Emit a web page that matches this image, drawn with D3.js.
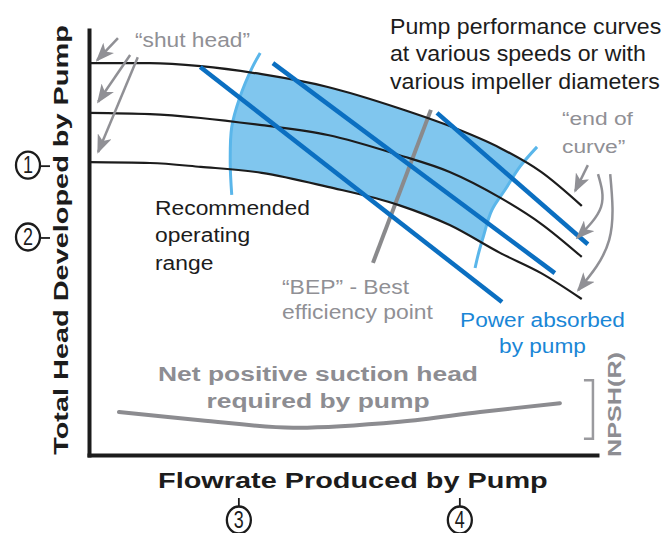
<!DOCTYPE html>
<html>
<head>
<meta charset="utf-8">
<script src="https://cdn.jsdelivr.net/npm/d3@7"></script>
<style>
  body { margin: 0; background: #fff; }
  svg { display: block; }
  text { font-family: "Liberation Sans", Arial, sans-serif; }
</style>
</head>
<body>
<svg id="chart" width="661" height="533"></svg>
<script>
// values, flow and head both in % of the axis length
const flow = [0, 12, 22, 34, 47, 61, 71, 81, 89, 97];
const headCurve1 = [92.2, 92.2, 91.5, 89.6, 86.6, 81.6, 77.4, 72.2, 66.6, 58.6];
const headCurve2 = [80.5, 80.2, 79.3, 77.6, 75.3, 70.6, 66.6, 60.5, 54.4, 46.6];
const headCurve3 = [68.9, 68.7, 67.8, 66.4, 63.1, 58.8, 54.1, 47.5, 42.8, 36.7];

// power absorbed lines: [start, end] flows and heads
const powerFlow = [[21.9, 81.3], [36.2, 91.7], [68.5, 98.2]];
const powerHead = [[91.3, 36.0], [92.2, 42.8], [80.5, 49.6]];

// best efficiency point line
const bepFlow = [67.3, 55.9];
const bepHead = [81.2, 45.2];

// edges of the recommended operating range
const rangeLeftFlow = [33.7, 32.1, 29.7, 28.1, 27.8, 28.1];
const rangeLeftHead = [94.6, 91.1, 84.2, 77.2, 68.7, 61.2];
const rangeRightFlow = [88.2, 84.8, 81.9, 79.3, 77.6, 76.6, 76.0];
const rangeRightHead = [72.5, 67.8, 62.4, 57.6, 51.3, 47.1, 44.0];

// NPSH required
const npshFlow = [5.9, 21.9, 40.2, 61.2, 77, 92.7];
const npshHead = [10.1, 8.2, 6.4, 7.8, 10.1, 12.2];
const npshBracket = [17.6, 3.8];

// circled reference marks
const headMarks = [68.2, 51.3];
const headMarkLabels = ["1", "2"];
const flowMarks = [29.5, 73.0];
const flowMarkLabels = ["3", "4"];

const svg = d3.select("#chart");
const x = d3.scaleLinear().domain([0, 100]).range([89, 597]);
const y = d3.scaleLinear().domain([0, 100]).range([455, 30]);

const zip = (a, b) => a.map((v, i) => [v, b[i]]);
const line = d3.line().x(d => x(d[0])).y(d => y(d[1]));
const smooth = d3.line().x(d => x(d[0])).y(d => y(d[1])).curve(d3.curveMonotoneX);
const arcLine = d3.line().x(d => x(d[0])).y(d => y(d[1])).curve(d3.curveCatmullRom.alpha(0.5));

const GREY = "#909095", BLUE = "#0b6fc1", LIGHT = "#80c6ee", INK = "#1c1c1c";

// arrow heads
const defs = svg.append("defs");
defs.append("marker")
  .attr("id", "head")
  .attr("viewBox", "0 0 19 15")
  .attr("refX", 17).attr("refY", 7.5)
  .attr("markerWidth", 19).attr("markerHeight", 15)
  .attr("markerUnits", "userSpaceOnUse")
  .attr("orient", "auto")
  .append("path")
  .attr("d", "M0,0 L19,7.5 L0,15 L5,7.5 Z")
  .attr("fill", GREY);

// recommended operating range: band between top and bottom curve, clipped by the two edges
const left = zip(rangeLeftFlow, rangeLeftHead);
const right = zip(rangeRightFlow, rangeRightHead);
const clipD = arcLine(left) + "L" + arcLine(right.slice().reverse()).slice(1) + "Z";
defs.append("clipPath").attr("id", "range").append("path").attr("d", clipD);

const band = d3.area()
  .x((d, i) => x(flow[i]))
  .y0((d, i) => y(headCurve3[i]))
  .y1((d, i) => y(headCurve1[i]))
  .curve(d3.curveMonotoneX);
svg.append("path")
  .attr("d", band(flow))
  .attr("fill", LIGHT)
  .attr("clip-path", "url(#range)");

svg.selectAll(".edge").data([left, right]).enter().append("path")
  .attr("class", "edge")
  .attr("d", arcLine)
  .attr("fill", "none")
  .attr("stroke", "#5ab6ea")
  .attr("stroke-width", 3);

// BEP line
svg.append("path")
  .attr("d", line(zip(bepFlow, bepHead)))
  .attr("stroke", "#8a8a8c").attr("stroke-width", 4).attr("fill", "none");

// pump curves
svg.selectAll(".curve").data([headCurve1, headCurve2, headCurve3]).enter().append("path")
  .attr("class", "curve")
  .attr("d", h => smooth(zip(flow, h)))
  .attr("fill", "none").attr("stroke", INK).attr("stroke-width", 2.2);

// power absorbed
svg.selectAll(".power").data(powerFlow).enter().append("path")
  .attr("class", "power")
  .attr("d", (f, i) => line(zip(f, powerHead[i])))
  .attr("stroke", BLUE).attr("stroke-width", 4.5).attr("fill", "none");

// NPSH(R)
svg.append("path")
  .attr("d", arcLine(zip(npshFlow, npshHead)))
  .attr("fill", "none").attr("stroke", "#8c8c90").attr("stroke-width", 4).attr("stroke-linecap", "round");

const bx = x(99.2);
svg.append("path")
  .attr("d", `M${bx - 9},${y(npshBracket[0])}H${bx}V${y(npshBracket[1])}H${bx - 9}`)
  .attr("fill", "none").attr("stroke", "#9a9a9e").attr("stroke-width", 2.5);

// axes
svg.append("g").attr("transform", `translate(0,${y(0)})`)
  .call(d3.axisBottom(x).tickValues([]).tickSizeOuter(0));
svg.append("g").attr("transform", `translate(${x(0)},0)`)
  .call(d3.axisLeft(y).tickValues([]).tickSizeOuter(0));
svg.selectAll(".domain").attr("stroke", INK).attr("stroke-width", 4).attr("stroke-linecap", "square");

// annotation arrows
const shutArrows = [[[5.7, 98.1], [1.6, 92.9]], [[8.1, 94.1], [1.8, 83.1]], [[9.6, 93.6], [1.8, 71.3]]];
const endArrows = [[[98.2, 68.2], [95.7, 62.1]],
                   [[100.2, 66.1], [100.8, 58.4], [96.1, 51.1]],
                   [[102.6, 66.1], [102.4, 50.6], [96.3, 38.8]]];
const curvy = d3.line().x(d => x(d[0])).y(d => y(d[1])).curve(d3.curveNatural);
svg.selectAll(".arrow").data(shutArrows.concat(endArrows)).enter().append("path")
  .attr("class", "arrow")
  .attr("d", curvy)
  .attr("fill", "none").attr("stroke", GREY).attr("stroke-width", 2.5)
  .attr("marker-end", "url(#head)");

// circled marks
function mark(cx, cy, label) {
  const g = svg.append("g").attr("transform", `translate(${cx},${cy})`);
  g.append("ellipse").attr("rx", 12).attr("ry", 13.5)
    .attr("fill", "none").attr("stroke", INK).attr("stroke-width", 2.3);
  g.append("text").attr("transform", "scale(0.78,1)")
    .attr("text-anchor", "middle").attr("y", 8)
    .attr("font-size", 23).attr("fill", INK).text(label);
  return g;
}
headMarks.forEach((h, i) => {
  mark(28, y(h), headMarkLabels[i]);
  svg.append("line").attr("x1", 40).attr("x2", 50).attr("y1", y(h) + 1).attr("y2", y(h) + 1)
    .attr("stroke", INK).attr("stroke-width", 1.8);
});
flowMarks.forEach((f, i) => {
  mark(x(f), 520, flowMarkLabels[i]);
  svg.append("line").attr("x1", x(f)).attr("x2", x(f)).attr("y1", 506).attr("y2", 498)
    .attr("stroke", INK).attr("stroke-width", 1.8);
});

// text blocks, stretched sideways so the reference line gets its width
function label(o) {
  const g = svg.append("g");
  const t = g.append("text")
    .attr("font-size", o.size)
    .attr("font-weight", o.weight || "normal")
    .attr("fill", o.fill)
    .attr("text-anchor", o.anchor || "start");
  o.lines.forEach((s, i) => t.append("tspan").attr("x", 0).attr("y", i * (o.lh || 0)).text(s));
  const w = t.selectAll("tspan").nodes()[o.ref || 0].getComputedTextLength();
  g.attr("transform", `translate(${o.x},${o.y}) rotate(${o.rotate || 0}) scale(${o.width / w},1)`);
}

label({ x: 390, y: 34, lines: ["Pump performance curves", "at various speeds or with", "various impeller diameters"],
        size: 22, lh: 27.5, fill: INK, ref: 1, width: 256 });
label({ x: 562, y: 125, lines: ["\u201Cend of", "curve\u201D"], size: 19, lh: 28, fill: GREY, width: 71 });
label({ x: 135, y: 47, lines: ["\u201Cshut head\u201D"], size: 20, fill: GREY, width: 115 });
label({ x: 155, y: 215, lines: ["Recommended", "operating", "range"], size: 21, lh: 27.5, fill: INK, width: 155 });
label({ x: 282, y: 294, lines: ["\u201CBEP\u201D - Best", "efficiency point"], size: 20, lh: 25, fill: GREY, ref: 1, width: 151 });
label({ x: 542.5, y: 327, lines: ["Power absorbed", "by pump"], size: 20, lh: 26, fill: "#1a86d6", anchor: "middle", width: 165 });
label({ x: 318, y: 381, lines: ["Net positive suction head", "required by pump"], size: 21, lh: 27, weight: "bold",
        fill: "#8d8d92", anchor: "middle", width: 320 });
label({ x: 158, y: 488, lines: ["Flowrate Produced by Pump"], size: 22, weight: "bold", fill: INK, width: 390 });
label({ x: 68, y: 240, lines: ["Total Head Developed by Pump"], size: 21, weight: "bold", fill: INK,
        anchor: "middle", rotate: -90, width: 430 });
label({ x: 621, y: 404.5, lines: ["NPSH(R)"], size: 19, weight: "bold", fill: "#8d8d92",
        anchor: "middle", rotate: -90, width: 105 });
</script>
</body>
</html>
